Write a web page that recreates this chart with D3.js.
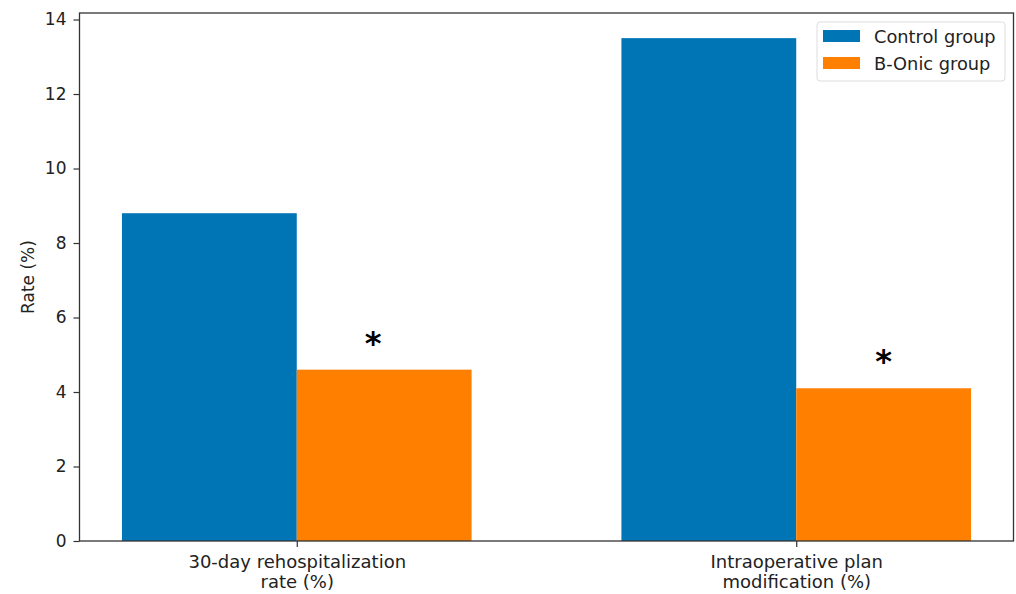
<!DOCTYPE html>
<html>
<head>
<meta charset="utf-8">
<script src="https://cdn.jsdelivr.net/npm/d3@7"></script>
<style>
  html, body { margin: 0; padding: 0; background: #fff; }
  svg { display: block; }
  text { font-family: "DejaVu Sans", sans-serif; fill: #222; }
</style>
</head>
<body>
<svg id="chart" width="1016" height="594"></svg>
<script>
// Outcome categories (tick labels are split onto two lines)
const categories = [
  ["30-day rehospitalization", "rate (%)"],
  ["Intraoperative plan", "modification (%)"]
];
const seriesNames = ["Control group", "B-Onic group"];
const controlValues = [8.8, 13.5];
const bonicValues = [4.6, 4.1];
const significant = [true, true];
const yTicks = [0, 2, 4, 6, 8, 10, 12, 14];
const colors = ["#0075b6", "#ff7f00"];

(function () {
const svg = d3.select("#chart");
const plotLeft = 79.5, plotRight = 1013.5, plotTop = 13, plotBottom = 541;

const barWidth = 0.35;
const n = categories.length;
const dataMin = -barWidth, dataMax = (n - 1) + barWidth;
const pad = 0.05 * (dataMax - dataMin);
const x = d3.scaleLinear().domain([dataMin - pad, dataMax + pad]).range([plotLeft, plotRight]);

const yMax = d3.max(controlValues.concat(bonicValues)) * 1.05;
const y = d3.scaleLinear().domain([0, yMax]).range([plotBottom, plotTop]);

const series = [controlValues, bonicValues];

// Bars
series.forEach((vals, s) => {
  svg.append("g").selectAll("rect")
    .data(vals)
    .join("rect")
    .attr("x", (d, i) => x(i + (s === 0 ? -barWidth : 0)))
    .attr("width", (d, i) => x(i + barWidth) - x(i))
    .attr("y", d => y(d))
    .attr("height", d => y(0) - y(d))
    .attr("fill", colors[s]);
});

// Significance markers above the B-Onic bars
svg.append("g").selectAll("text")
  .data(bonicValues.map((v, i) => ({ v, i })).filter(d => significant[d.i]))
  .join("text")
  .attr("x", d => x(d.i + barWidth / 2) + (d.i === 0 ? -11 : 0))
  .attr("y", d => y(d.v + 0.8) + 14)
  .attr("text-anchor", "middle")
  .style("font-size", "32px")
  .style("font-weight", "bold")
  .style("fill", "#000")
  .text("*");

// Y axis
const yAxis = d3.axisLeft(y).tickValues(yTicks).tickFormat(d3.format("d")).tickSize(6).tickPadding(7);
const gy = svg.append("g").attr("transform", `translate(${plotLeft},0)`).call(yAxis);
gy.select(".domain").remove();
gy.selectAll(".tick line").attr("stroke", "#333").attr("stroke-width", 1.2);
gy.selectAll(".tick text").style("font-size", "17px").style("font-family", "DejaVu Sans").attr("fill", "#222");

// X axis
const xAxis = d3.axisBottom(x).tickValues(d3.range(n)).tickFormat("").tickSize(6);
const gx = svg.append("g").attr("transform", `translate(0,${plotBottom})`).call(xAxis);
gx.select(".domain").remove();
gx.selectAll(".tick line").attr("stroke", "#333").attr("stroke-width", 1.2);
gx.selectAll(".tick").each(function(d) {
  const t = d3.select(this).append("text")
    .attr("text-anchor", "middle")
    .attr("fill", "#222")
    .style("font-size", "18px");
  categories[d].forEach((line, k) => {
    t.append("tspan").attr("x", 0).attr("y", 27 + k * 19.5).text(line);
  });
});

// Frame
svg.append("rect")
  .attr("x", plotLeft).attr("y", plotTop)
  .attr("width", plotRight - plotLeft).attr("height", plotBottom - plotTop)
  .attr("fill", "none").attr("stroke", "#333").attr("stroke-width", 1.3);

// Y axis label
svg.append("text")
  .attr("transform", `translate(34,${(plotTop + plotBottom) / 2}) rotate(-90)`)
  .attr("text-anchor", "middle")
  .style("font-size", "17px")
  .text("Rate (%)");

// Legend
const lg = svg.append("g").attr("transform", "translate(817,22)");
lg.append("rect").attr("width", 188).attr("height", 59).attr("rx", 3)
  .attr("fill", "#fff").attr("fill-opacity", 0.8).attr("stroke", "#ddd");
seriesNames.forEach((name, i) => {
  lg.append("rect").attr("x", 6).attr("y", 8 + i * 27).attr("width", 37).attr("height", 12).attr("fill", colors[i]);
  lg.append("text").attr("x", 57).attr("y", 21 + i * 27).style("font-size", "17.8px").text(name);
});
})();
</script>
</body>
</html>
